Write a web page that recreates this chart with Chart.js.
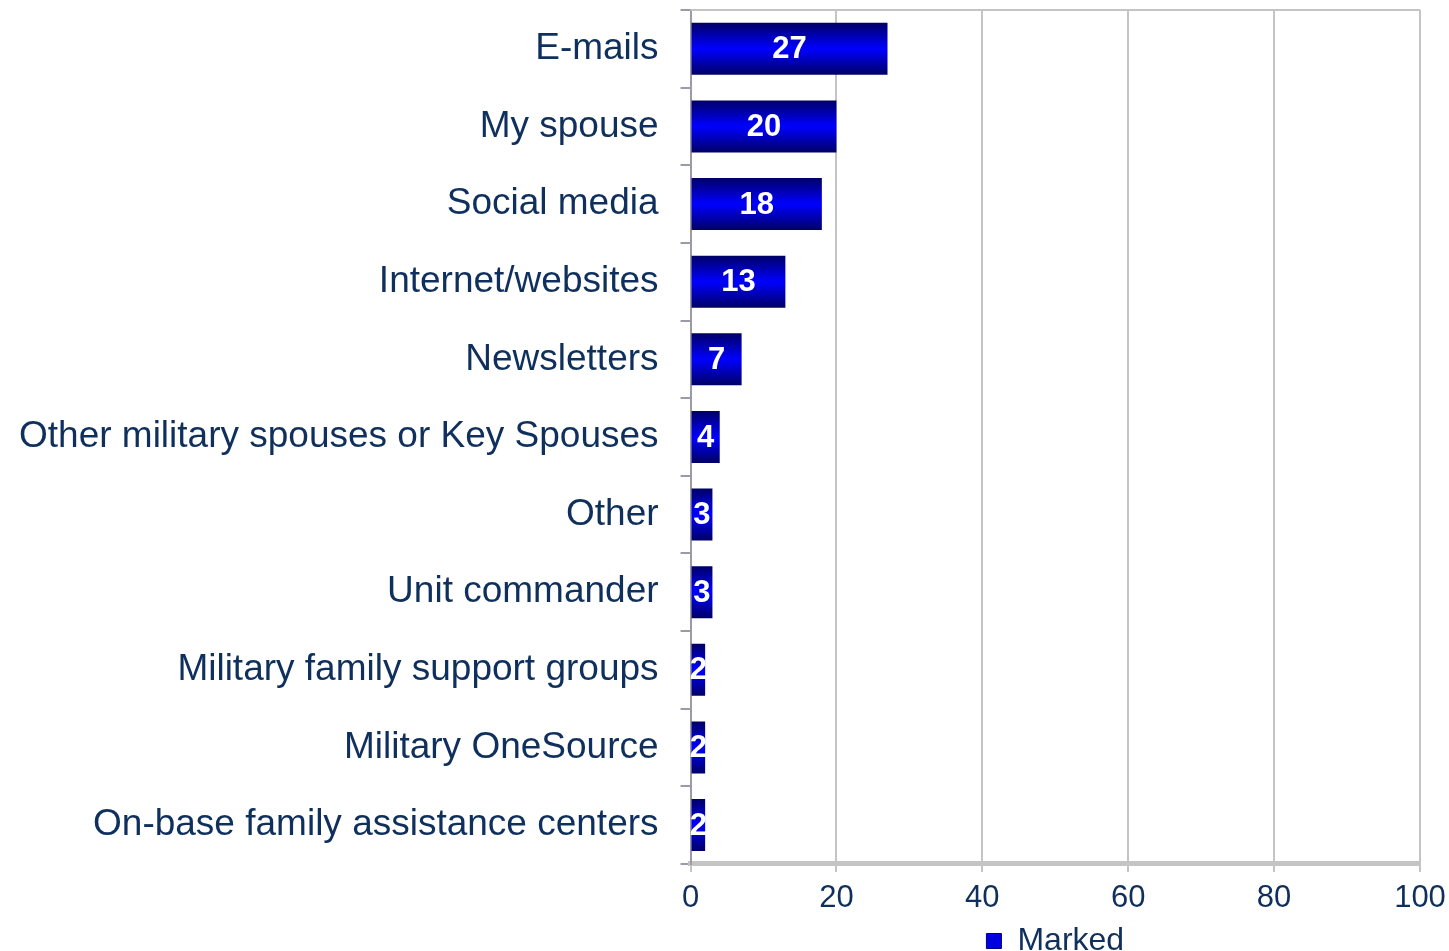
<!DOCTYPE html>
<html>
<head>
<meta charset="utf-8">
<script src="https://cdn.jsdelivr.net/npm/chart.js@4.4.1/dist/chart.umd.min.js"></script>
<style>
  html, body { margin: 0; padding: 0; background: #fff; overflow: hidden; }
  #wrap { width: 1449px; height: 967px; position: relative; }
</style>
</head>
<body>
<div id="wrap"><canvas id="sourcesChart"></canvas></div>
<script>
const categories = [
    'E-mails',
    'My spouse',
    'Social media',
    'Internet/websites',
    'Newsletters',
    'Other military spouses or Key Spouses',
    'Other',
    'Unit commander',
    'Military family support groups',
    'Military OneSource',
    'On-base family assistance centers'
];
const markedValues = [27, 20, 18, 13, 7, 4, 3, 3, 2, 2, 2];
const xTicks = [0, 20, 40, 60, 80, 100];

const textColor = '#0f2f5c';
const fontFamily = '"Liberation Sans", Arial, sans-serif';
const barFraction = 0.67;

// vertical gradient per bar: dark navy edges, bright blue middle
function barGradient(context) {
    const chart = context.chart;
    const yScale = chart.scales.y;
    if (!yScale || context.dataIndex === undefined || !yScale.height) return '#0000e6';
    const cy = yScale.getPixelForValue(context.dataIndex);
    const half = (yScale.height / categories.length) * barFraction / 2;
    const g = chart.ctx.createLinearGradient(0, cy - half, 0, cy + half);
    g.addColorStop(0, '#000066');
    g.addColorStop(0.5, '#0000ff');
    g.addColorStop(1, '#000066');
    return g;
}

// white value labels centred on each bar
const valueLabels = {
    id: 'valueLabels',
    afterDatasetsDraw(chart) {
        const ctx = chart.ctx;
        const meta = chart.getDatasetMeta(0);
        ctx.save();
        ctx.fillStyle = '#ffffff';
        ctx.font = 'bold 31px ' + fontFamily;
        ctx.textAlign = 'center';
        ctx.textBaseline = 'middle';
        meta.data.forEach((bar, i) => {
            const cx = (bar.x + bar.base) / 2;
            ctx.fillText(String(markedValues[i]), cx, bar.y + 1);
        });
        ctx.restore();
    }
};

// thin frame line along the top of the plot area
const topBorder = {
    id: 'topBorder',
    beforeDatasetsDraw(chart) {
        const { ctx, chartArea } = chart;
        ctx.save();
        ctx.strokeStyle = '#c4c4c4';
        ctx.lineWidth = 2;
        ctx.beginPath();
        ctx.moveTo(chartArea.left, chartArea.top);
        ctx.lineTo(chartArea.right, chartArea.top);
        ctx.stroke();
        ctx.restore();
    }
};

// tick padding only separates labels from the axis; don't let it pad the plot edges
function trimEdgePadding(axis) {
    const pad = axis.options.ticks.padding;
    if (axis.isHorizontal()) {
        axis.paddingLeft = Math.max(0, axis.paddingLeft - pad);
        axis.paddingRight = Math.max(0, axis.paddingRight - pad);
    } else {
        axis.paddingTop = Math.max(0, axis.paddingTop - pad);
        axis.paddingBottom = Math.max(0, axis.paddingBottom - pad);
    }
}

new Chart(document.getElementById('sourcesChart'), {
    type: 'bar',
    data: {
        labels: categories,
        datasets: [{
            label: 'Marked',
            data: markedValues,
            backgroundColor: barGradient,
            borderWidth: 0,
            categoryPercentage: 1,
            barPercentage: barFraction
        }]
    },
    options: {
        indexAxis: 'y',
        responsive: true,
        maintainAspectRatio: false,
        animation: false,
        layout: { padding: { top: 10, left: -3, right: 29, bottom: 0 } },
        scales: {
            x: {
                min: 0,
                max: 100,
                afterBuildTicks: axis => { axis.ticks = xTicks.map(v => ({ value: v })); },
                afterFit: trimEdgePadding,
                grid: {
                    color: '#c4c4c4',
                    lineWidth: 2,
                    tickLength: 8,
                    drawTicks: true
                },
                border: { color: '#c4c4c4', width: 5 },
                ticks: {
                    color: textColor,
                    padding: 16,
                    font: { family: fontFamily, size: 31, lineHeight: 0.68 }
                }
            },
            y: {
                afterFit: trimEdgePadding,
                grid: {
                    drawOnChartArea: false,
                    drawTicks: true,
                    tickLength: 10,
                    color: '#9a9aa8',
                    lineWidth: 2
                },
                border: { color: '#9a9aa8', width: 2 },
                ticks: {
                    color: textColor,
                    padding: 22,
                    autoSkip: false,
                    font: { family: fontFamily, size: 37, lineHeight: 0.2 }
                }
            }
        },
        plugins: {
            legend: {
                position: 'bottom',
                fullSize: false,
                labels: {
                    color: textColor,
                    boxWidth: 15,
                    boxHeight: 15,
                    padding: 0,
                    font: { family: fontFamily, size: 32, lineHeight: 0.8 },
                    generateLabels: chart => [{
                        text: 'Marked',
                        fillStyle: '#0000e0',
                        strokeStyle: '#000080',
                        lineWidth: 1,
                        fontColor: textColor,
                        datasetIndex: 0
                    }]
                }
            },
            tooltip: { enabled: false }
        }
    },
    plugins: [valueLabels, topBorder]
});
</script>
</body>
</html>
